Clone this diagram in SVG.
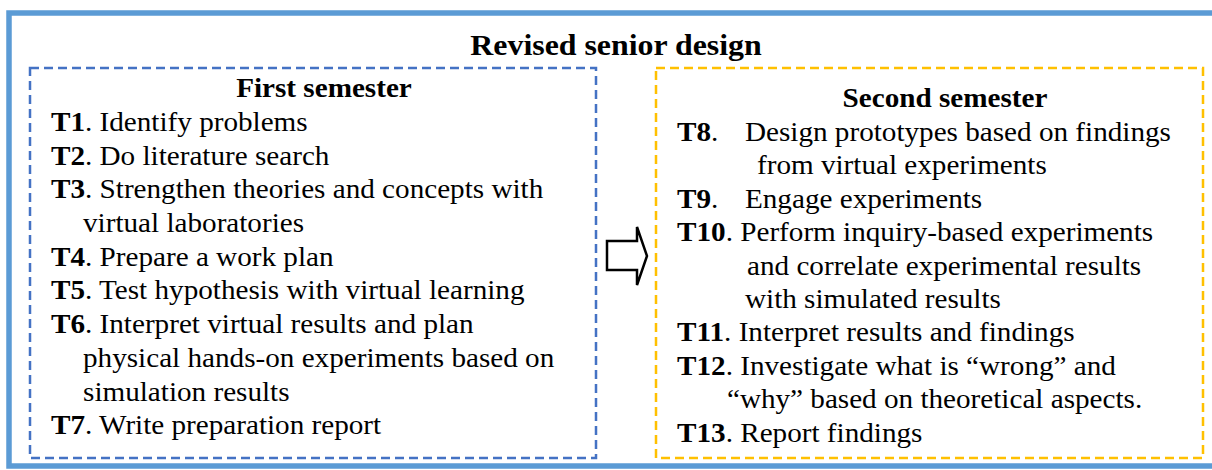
<svg xmlns="http://www.w3.org/2000/svg" width="1212" height="470" viewBox="0 0 1212 470">
  <style>
    text { font-family: "Liberation Serif", "Times New Roman", serif; font-size: 27px; fill: #000; }
    .b { font-weight: bold; }
    .title { font-size: 29.5px; font-weight: bold; }
    .blue { fill: none; stroke: #4472C4; stroke-width: 2.5; stroke-dasharray: 9 5; }
    .gold { fill: none; stroke: #FFC000; stroke-width: 2.5; stroke-dasharray: 9 5; }
  </style>
  <rect width="1212" height="470" fill="#fff"/>
  <g id="outer">
    <rect x="9" y="13" width="1220" height="453" fill="none" stroke="#5B9BD5" stroke-width="5.5"/>
  </g>
  <g id="title" transform="scale(1.08,1)">
    <text class="title" x="570.4" y="55" text-anchor="middle">Revised senior design</text>
  </g>
  <g id="first-semester">
    <rect class="blue" x="30" y="68" width="566" height="390"/>
    <g transform="scale(1.08,1)">
      <text class="b" x="300" y="97" text-anchor="middle">First semester</text>
      <text x="47.2" y="131"><tspan class="b">T1</tspan>. Identify problems</text>
      <text x="47.2" y="164.7"><tspan class="b">T2</tspan>. Do literature search</text>
      <text x="47.2" y="198.4"><tspan class="b">T3</tspan>. Strengthen theories and concepts with</text>
      <text x="76.9" y="232.1">virtual laboratories</text>
      <text x="47.2" y="265.8"><tspan class="b">T4</tspan>. Prepare a work plan</text>
      <text x="47.2" y="299.5"><tspan class="b">T5</tspan>. Test hypothesis with virtual learning</text>
      <text x="47.2" y="333.2"><tspan class="b">T6</tspan>. Interpret virtual results and plan</text>
      <text x="76.9" y="366.9">physical hands-on experiments based on</text>
      <text x="76.9" y="400.6">simulation results</text>
      <text x="47.2" y="434.3"><tspan class="b">T7</tspan>. Write preparation report</text>
    </g>
  </g>
  <g id="second-semester">
    <rect class="gold" x="656" y="68" width="547" height="390"/>
    <g transform="scale(1.08,1)">
      <text class="b" x="875" y="107" text-anchor="middle">Second semester</text>
      <text x="626.9" y="141"><tspan class="b">T8</tspan>.<tspan x="689.8">Design prototypes based on findings</tspan></text>
      <text x="700.9" y="174.4">from virtual experiments</text>
      <text x="626.9" y="207.8"><tspan class="b">T9</tspan>.<tspan x="689.8">Engage experiments</tspan></text>
      <text x="626.9" y="241.2"><tspan class="b">T10</tspan>. Perform inquiry-based experiments</text>
      <text x="691.7" y="274.6">and correlate experimental results</text>
      <text x="689.8" y="308">with simulated results</text>
      <text x="626.9" y="341.4"><tspan class="b">T11</tspan>. Interpret results and findings</text>
      <text x="626.9" y="374.8"><tspan class="b">T12</tspan>. Investigate what is “wrong” and</text>
      <text x="673.1" y="408.2">“why” based on theoretical aspects.</text>
      <text x="626.9" y="441.6"><tspan class="b">T13</tspan>. Report findings</text>
    </g>
  </g>
  <g id="connectors">
    <path d="M607,241 L637,241 L637,227 L647,256 L637,285 L637,270 L607,270 Z" fill="#fff" stroke="#000" stroke-width="2.5" stroke-linejoin="miter"/>
  </g>
</svg>
